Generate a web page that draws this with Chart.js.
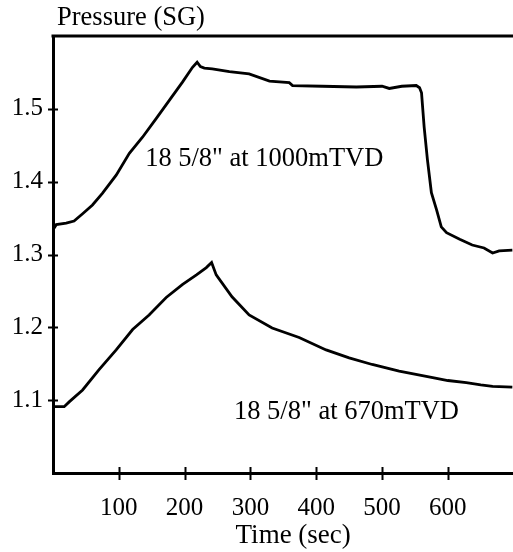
<!DOCTYPE html>
<html>
<head>
<meta charset="utf-8">
<script src="https://cdn.jsdelivr.net/npm/chart.js@4/dist/chart.umd.min.js"></script>
<style>
  body { margin: 0; background: #fff; }
  canvas { display: block; }
</style>
</head>
<body>
<canvas id="chart" width="513" height="552"></canvas>
<script>
// 18 5/8" at 1000mTVD
const timeUpper = [0, 5, 20, 32, 45, 60, 75, 96, 116, 136, 157, 177, 197, 212, 219, 224, 230, 242, 268, 298, 329, 359, 364, 409, 461, 500, 511, 530, 552, 557, 560, 564, 569, 575, 583, 590, 598, 618, 637, 655, 668, 678, 698]
const pressureUpper = [1.334, 1.341, 1.343, 1.346, 1.356, 1.368, 1.384, 1.409, 1.439, 1.461, 1.487, 1.512, 1.537, 1.557, 1.564, 1.558, 1.556, 1.555, 1.551, 1.548, 1.538, 1.536, 1.532, 1.531, 1.530, 1.531, 1.528, 1.531, 1.532, 1.529, 1.522, 1.475, 1.430, 1.385, 1.361, 1.338, 1.330, 1.321, 1.313, 1.309, 1.302, 1.305, 1.306]

// 18 5/8" at 670mTVD
const timeLower = [0, 17, 25, 45, 70, 96, 121, 146, 172, 197, 218, 233, 241, 248, 272, 298, 333, 374, 415, 450, 485, 526, 577, 600, 628, 650, 668, 698]
const pressureLower = [1.091, 1.091, 1.098, 1.114, 1.142, 1.169, 1.197, 1.217, 1.241, 1.259, 1.272, 1.282, 1.289, 1.272, 1.242, 1.217, 1.199, 1.186, 1.169, 1.158, 1.149, 1.140, 1.131, 1.127, 1.124, 1.121, 1.119, 1.118]

const xTicks = [100, 200, 300, 400, 500, 600]
const yTicks = [1.1, 1.2, 1.3, 1.4, 1.5]

const labels = [
  { text: '18 5/8" at 1000mTVD', x: 140, y: 1.4214 },
  { text: '18 5/8" at 670mTVD', x: 275, y: 1.0746 }
]

const FONT = '"Liberation Serif", "Times New Roman", serif'

function toPoints(xs, ys) {
  return xs.map((x, i) => ({ x: x, y: ys[i] }))
}

// frame top line, crossing tick marks and the text labels
const decorPlugin = {
  id: 'decor',
  afterDraw(chart) {
    const ctx = chart.ctx
    const area = chart.chartArea
    const xs = chart.scales.x
    const ys = chart.scales.y
    ctx.save()
    ctx.strokeStyle = '#000'
    ctx.lineWidth = 3
    ctx.beginPath()
    ctx.moveTo(area.left - 1.5, area.top)
    ctx.lineTo(area.right, area.top)
    ctx.stroke()

    ctx.lineWidth = 2
    ctx.beginPath()
    xTicks.forEach(v => {
      const px = Math.round(xs.getPixelForValue(v)) + 0.5
      ctx.moveTo(px, area.bottom - 6)
      ctx.lineTo(px, area.bottom + 7)
    })
    yTicks.forEach(v => {
      const py = Math.round(ys.getPixelForValue(v)) + 0.5
      ctx.moveTo(area.left - 5, py)
      ctx.lineTo(area.left + 5, py)
    })
    ctx.stroke()

    ctx.fillStyle = '#000'
    ctx.textBaseline = 'alphabetic'
    ctx.textAlign = 'left'
    ctx.font = '26.5px ' + FONT
    ctx.fillText('Pressure (SG)', area.left + 4, 25)
    labels.forEach(l => {
      ctx.fillText(l.text, xs.getPixelForValue(l.x), ys.getPixelForValue(l.y))
    })
    ctx.textAlign = 'center'
    ctx.font = '27px ' + FONT
    ctx.fillText('Time (sec)', xs.getPixelForValue(365), 543)
    ctx.restore()
  }
}

new Chart(document.getElementById('chart'), {
  type: 'line',
  data: {
    datasets: [
      {
        label: '1000mTVD',
        data: toPoints(timeUpper, pressureUpper),
        borderColor: '#000',
        borderWidth: 2.8,
        pointRadius: 0,
        tension: 0
      },
      {
        label: '670mTVD',
        data: toPoints(timeLower, pressureLower),
        borderColor: '#000',
        borderWidth: 2.8,
        pointRadius: 0,
        tension: 0
      }
    ]
  },
  options: {
    responsive: false,
    animation: false,
    layout: {
      padding: { top: 36, right: 0, left: 0, bottom: 0 }
    },
    plugins: {
      legend: { display: false },
      tooltip: { enabled: false }
    },
    scales: {
      x: {
        type: 'linear',
        min: 0,
        max: 699,
        afterBuildTicks(scale) {
          scale.ticks = xTicks.map(v => ({ value: v }))
        },
        afterFit(scale) {
          scale.height = 79
        },
        grid: { display: false, drawTicks: false },
        border: { display: true, color: '#000', width: 3 },
        ticks: {
          color: '#000',
          padding: 20,
          maxRotation: 0,
          font: { family: FONT, size: 25 }
        }
      },
      y: {
        type: 'linear',
        min: 1.0,
        max: 1.6,
        afterBuildTicks(scale) {
          scale.ticks = yTicks.map(v => ({ value: v }))
        },
        afterFit(scale) {
          scale.width = 53
        },
        grid: { display: false, drawTicks: false },
        border: { display: true, color: '#000', width: 3 },
        ticks: {
          color: '#000',
          padding: 10,
          font: { family: FONT, size: 25 },
          callback: v => v.toFixed(1)
        }
      }
    }
  },
  plugins: [decorPlugin]
})
</script>
</body>
</html>
